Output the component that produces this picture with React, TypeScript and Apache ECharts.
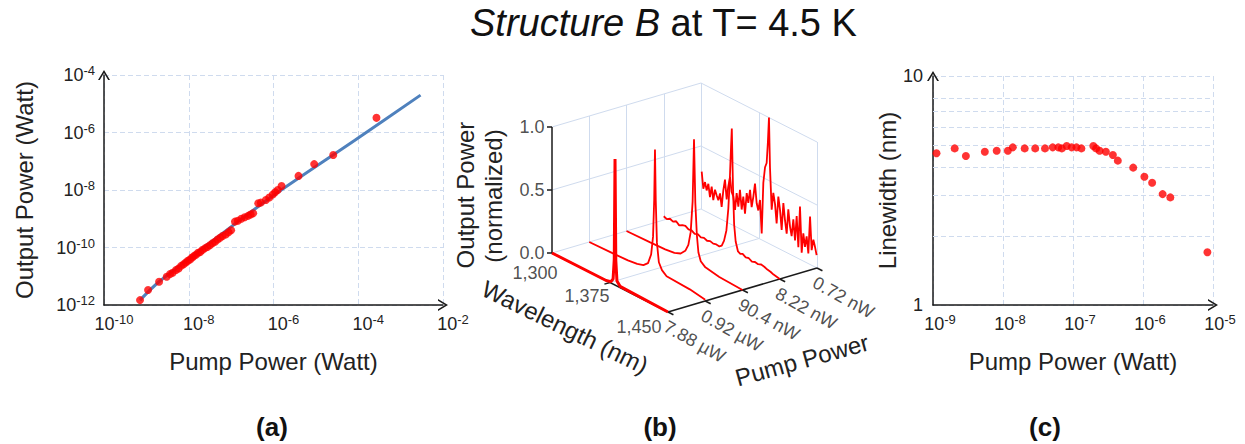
import React, { useEffect, useRef } from 'react';
import * as echarts from 'echarts';

const FONT = "'Liberation Sans', Arial, Helvetica, sans-serif";

// ---------- Panel (a): output vs pump power (log10 of Watt) ----------
const aPumpLog10 = [-9.15, -8.96, -8.70, -8.52, -8.44, -8.38, -8.30, -8.24, -8.18, -8.12, -8.07, -8.02, -7.97, -7.92, -7.88, -7.83, -7.78, -7.73, -7.68, -7.62, -7.56, -7.50, -7.44, -7.38, -7.32, -7.26, -7.20, -7.13, -7.06, -7.00, -6.91, -6.84, -6.76, -6.68, -6.60, -6.54, -6.48, -6.36, -6.30, -6.18, -6.10, -6.02, -5.96, -5.90, -5.81, -5.41, -5.04, -4.59, -3.57];
const aOutputLog10 = [-11.83, -11.48, -11.19, -11.02, -10.92, -10.88, -10.78, -10.73, -10.64, -10.58, -10.52, -10.46, -10.42, -10.35, -10.30, -10.25, -10.18, -10.16, -10.09, -10.03, -9.98, -9.92, -9.85, -9.80, -9.72, -9.66, -9.60, -9.55, -9.47, -9.40, -9.10, -9.07, -9.00, -8.95, -8.90, -8.85, -8.81, -8.46, -8.44, -8.35, -8.26, -8.16, -8.08, -8.00, -7.86, -7.51, -7.10, -6.78, -5.49];
const aFitPumpLog10 = [-9.15, -8.70, -7.26, -6.00, -4.08, -2.53];
const aFitOutputLog10 = [-11.83, -11.19, -9.57, -8.19, -6.27, -4.70];

// ---------- Panel (c): linewidth vs pump power ----------
const cPumpLog10 = [-8.95, -8.69, -8.53, -8.26, -8.09, -7.93, -7.86, -7.69, -7.54, -7.40, -7.29, -7.21, -7.16, -7.09, -7.02, -6.95, -6.88, -6.71, -6.67, -6.62, -6.53, -6.43, -6.36, -6.14, -5.98, -5.87, -5.72, -5.61, -5.08];
const cLinewidthNm = [4.60, 4.83, 4.47, 4.67, 4.72, 4.72, 4.88, 4.83, 4.83, 4.83, 4.88, 4.88, 4.83, 4.95, 4.88, 4.88, 4.83, 4.95, 4.83, 4.72, 4.67, 4.52, 4.27, 3.98, 3.63, 3.42, 3.05, 2.95, 1.70];
const cMinorGrid = [2, 3, 4, 5, 6, 7, 8];

// ---------- Panel (b): spectra waterfall ----------
const bWavelengthTicks = [1300, 1375, 1450];
const bWavelengthLabels = ['1,300', '1,375', '1,450'];
const bPumpLabels = ['7.88 µW', '0.92 µW', '90.4 nW', '8.22 nW', '0.72 nW'];
const bValueTicks = [0, 0.5, 1];
const bValueLabels = ['0.0', '0.5', '1.0'];

const spec788uW = [[1300, 0], [1370, 0], [1376, 0.01], [1379, 0.04], [1380.5, 0.2], [1381.5, 1.0], [1382.5, 0.2], [1384, 0.04], [1388, 0.01], [1450, 0]];
const spec092uW = [[1300, 0], [1330, 0.005], [1350, 0.01], [1362, 0.02], [1370, 0.035], [1376, 0.07], [1380, 0.15], [1382.5, 0.3], [1384, 0.6], [1385, 1.0], [1386, 0.6], [1387.5, 0.27], [1390, 0.12], [1394, 0.07], [1400, 0.04], [1430, 0.03], [1450, 0.01]];
const spec904nW = [[1300, 0], [1330, 0.005], [1350, 0.01], [1362, 0.02], [1370, 0.04], [1376, 0.08], [1380, 0.14], [1383, 0.25], [1385.5, 0.5], [1387.3, 1.0], [1389, 0.5], [1391, 0.25], [1393, 0.12], [1396, 0.06], [1402, 0.03], [1420, 0.01], [1450, 0]];
const spec822nW = [[1300, 0.03], [1304, 0.02], [1308, 0.035], [1312, 0.025], [1316, 0.04], [1320, 0.02], [1324, 0.035], [1328, 0.04], [1332, 0.025], [1336, 0.03], [1340, 0.015], [1344, 0.025], [1348, 0.012], [1352, 0.02], [1356, 0.01], [1360, 0.02], [1364, 0.012], [1368, 0.018], [1372, 0.015], [1375, 0.03], [1378, 0.08], [1381, 0.17], [1383.5, 0.35], [1385.5, 0.6], [1387, 0.85], [1388, 1.0], [1389.5, 0.55], [1391, 0.25], [1393, 0.12], [1396, 0.05], [1399, 0.04], [1402, 0.05], [1406, 0.035], [1410, 0.04], [1414, 0.025], [1418, 0.035], [1422, 0.03], [1426, 0.04], [1430, 0.035], [1434, 0.025], [1438, 0.02], [1442, 0.01], [1446, 0.005], [1450, 0]];
const spec072nW = [[1300.9, 0.30], [1303.0, 0.17], [1305.2, 0.23], [1307.3, 0.17], [1309.5, 0.23], [1311.6, 0.13], [1313.8, 0.22], [1315.9, 0.12], [1318.1, 0.21], [1320.3, 0.17], [1322.4, 0.14], [1324.6, 0.20], [1326.7, 0.10], [1328.9, 0.24], [1331.0, 0.33], [1333.2, 0.18], [1335.3, 0.29], [1337.5, 0.37], [1339.6, 0.26], [1341.8, 0.23], [1344.0, 0.13], [1346.1, 0.27], [1348.3, 0.17], [1350.4, 0.31], [1352.6, 0.16], [1354.7, 0.27], [1356.9, 0.14], [1359.1, 0.31], [1361.2, 0.24], [1363.4, 0.35], [1365.5, 0.22], [1367.7, 0.31], [1369.8, 0.42], [1372.0, 0.27], [1374.1, 0.22], [1376.3, 0.31], [1378.5, 0.05], [1380.6, 0.46], [1382.8, 0.59], [1384.9, 0.63], [1386.5, 0.8], [1387.9, 1.0], [1389.2, 0.61], [1391.4, 0.28], [1393.5, 0.42], [1395.7, 0.34], [1397.8, 0.19], [1400.0, 0.41], [1402.2, 0.31], [1404.3, 0.16], [1406.5, 0.38], [1408.6, 0.25], [1410.8, 0.15], [1412.9, 0.35], [1415.1, 0.22], [1417.2, 0.15], [1419.4, 0.29], [1421.6, 0.13], [1423.7, 0.33], [1425.9, 0.09], [1428.0, 0.42], [1430.2, 0.06], [1432.3, 0.22], [1434.5, 0.12], [1436.6, 0.21], [1438.8, 0.08], [1441.0, 0.38], [1443.1, 0.12], [1445.3, 0.21], [1447.4, 0.16], [1449.5, 0.10]];
const bSpectra = [spec788uW, spec092uW, spec904nW, spec822nW, spec072nW]; // index = position on pump axis

// oblique projection of (wavelength, pump index, normalized power) onto panel (b)'s plane
const WL0 = 1300;
const WL_SPAN = 150;
const proj = (wl: number, p: number, v: number): number[] => [
  ((wl - WL0) / WL_SPAN) * 116 + p * 37.25,
  v * 126 - ((wl - WL0) / WL_SPAN) * 59 + p * 11,
];

const ARROW = 'path://M0,10 L6,0 L12,10 L10.2,10 L6,3 L1.8,10 Z';
const GRID_COLOR = '#cfdbee';
const AXIS_COLOR = '#1a1a1a';
const TEXT = '#222';
const NAME_SIZE = 24;
const WL_LABEL_OFFSETS = [[-17, 20], [-23, 13], [-29, 15]];

const supRich = {
  b: { fontSize: 18, lineHeight: 22, color: TEXT, fontFamily: FONT },
  s: { fontSize: 13, lineHeight: 13, color: TEXT, fontFamily: FONT, verticalAlign: 'top' },
};
const powFmt = (v: number) => `{b|10}{s|${Math.round(v)}}`;

export default function App() {
  const ref = useRef<HTMLDivElement>(null);
  useEffect(() => {
    if (!ref.current) return;
    const chart = echarts.init(ref.current, undefined, { renderer: 'svg' });

    const last = bPumpLabels.length - 1;
    const wallSegs: number[][][] = [];
    bValueTicks.forEach((v) => {
      wallSegs.push([proj(WL0, 0, v), proj(WL0, last, v)]);
      wallSegs.push([proj(WL0, last, v), proj(WL0 + WL_SPAN, last, v)]);
    });
    for (let p = 1; p <= last; p++) wallSegs.push([proj(WL0, p, 0), proj(WL0, p, 1)]);
    bWavelengthTicks.slice(1).forEach((wl) => wallSegs.push([proj(wl, last, 0), proj(wl, last, 1)]));
    wallSegs.push([proj(bWavelengthTicks[1], 0, 0), proj(bWavelengthTicks[1], last, 0)]);

    const axisSegs: number[][][] = [
      [proj(WL0, 0, 0), proj(WL0, 0, 1)],
      [proj(WL0, 0, 0), proj(WL0 + WL_SPAN, 0, 0)],
      [proj(WL0 + WL_SPAN, 0, 0), proj(WL0 + WL_SPAN, last, 0)],
    ];
    bValueTicks.forEach((v) => {
      const q = proj(WL0, 0, v);
      axisSegs.push([[q[0] - 5, q[1]], q]);
    });
    bPumpLabels.forEach((_, p) => axisSegs.push([proj(WL0 + WL_SPAN, p, 0), proj(WL0 + WL_SPAN + 7, p, 0)]));
    axisSegs.push([proj(bWavelengthTicks[1], 0, 0), proj(bWavelengthTicks[1], -0.15, 0)]);

    const spectraSeries = bSpectra
      .map((spec, p) => ({
        type: 'line',
        xAxisIndex: 1,
        yAxisIndex: 1,
        showSymbol: false,
        symbol: 'none',
        silent: true,
        z: 5 + (last - p),
        lineStyle: { color: '#ff0000', width: p === 0 ? 3 : 1.8 },
        data: spec.map(([wl, v]) => proj(wl, p, v)),
      }))
      .reverse();

    const labelItems: any[] = [];
    bValueTicks.forEach((v, i) =>
      labelItems.push({
        value: proj(WL0, 0, v),
        label: { show: true, formatter: bValueLabels[i], position: 'left', distance: 7, fontSize: 18, color: TEXT, fontFamily: FONT },
      })
    );
    bWavelengthTicks.forEach((wl, i) =>
      labelItems.push({
        value: proj(wl, 0, 0),
        label: { show: true, formatter: bWavelengthLabels[i], position: 'inside', offset: WL_LABEL_OFFSETS[i], align: 'center', verticalAlign: 'middle', fontSize: 18, color: TEXT, fontFamily: FONT },
      })
    );
    bPumpLabels.forEach((name, p) =>
      labelItems.push({
        value: proj(WL0 + WL_SPAN, p, 0),
        label: { show: true, formatter: name, position: 'inside', offset: [4, 4], align: 'left', verticalAlign: 'top', rotate: -29, fontSize: 18, color: TEXT, fontFamily: FONT },
      })
    );

    const axisLineBase = () => ({
      show: true,
      onZero: false,
      lineStyle: { color: AXIS_COLOR, width: 1.5 },
      symbol: ['none', ARROW],
      symbolSize: [12, 10],
    });
    const split = { show: true, lineStyle: { color: GRID_COLOR, type: [5, 3], width: 1 } };
    const nameStyle = { fontSize: NAME_SIZE, color: TEXT, fontFamily: FONT };

    chart.setOption({
      animation: false,
      backgroundColor: '#ffffff',
      textStyle: { fontFamily: FONT },
      title: {
        text: '{i|Structure B} at T= 4.5 K',
        left: 470,
        top: 4,
        padding: 0,
        textStyle: {
          fontSize: 38,
          fontWeight: 'normal',
          color: '#111',
          fontFamily: FONT,
          rich: { i: { fontSize: 38, fontStyle: 'italic', color: '#111', fontFamily: FONT } },
        },
      },
      grid: [
        { left: 104, top: 75, width: 339, height: 230 },
        { left: 440, top: 60, width: 440, height: 300 },
        { left: 933, top: 76, width: 280, height: 229 },
      ],
      xAxis: [
        {
          gridIndex: 0, type: 'value', min: -10, max: -2, interval: 2,
          axisLine: axisLineBase(), axisTick: { show: false },
          axisLabel: { formatter: powFmt, rich: supRich, margin: 8, padding: [0, 0, 0, 20] },
          splitLine: split,
          name: 'Pump Power (Watt)', nameLocation: 'middle', nameGap: 44, nameTextStyle: nameStyle,
        },
        { gridIndex: 1, type: 'value', min: -112, max: 328, show: false },
        {
          gridIndex: 2, type: 'value', min: -9, max: -5, interval: 1,
          axisLine: axisLineBase(), axisTick: { show: false },
          axisLabel: { formatter: powFmt, rich: supRich, margin: 8, padding: [0, 0, 0, 14] },
          splitLine: split,
          name: 'Pump Power (Watt)', nameLocation: 'middle', nameGap: 44, nameTextStyle: nameStyle,
        },
      ],
      yAxis: [
        {
          gridIndex: 0, type: 'value', min: -12, max: -4, interval: 2,
          axisLine: axisLineBase(), axisTick: { show: false },
          axisLabel: { formatter: powFmt, rich: supRich, margin: 9 },
          splitLine: split,
          name: 'Output Power (Watt)', nameLocation: 'middle', nameGap: 68, nameTextStyle: nameStyle,
        },
        { gridIndex: 1, type: 'value', min: -107, max: 193, show: false },
        {
          gridIndex: 2, type: 'value', min: 0, max: 1, interval: 1,
          axisLine: axisLineBase(), axisTick: { show: false },
          axisLabel: { formatter: (v: number) => String(Math.round(Math.pow(10, v))), fontSize: 18, color: TEXT, margin: 10 },
          splitLine: split,
          name: 'Linewidth (nm)', nameLocation: 'middle', nameGap: 29, nameTextStyle: nameStyle,
        },
      ],
      series: [
        // (a)
        {
          type: 'line', xAxisIndex: 0, yAxisIndex: 0, showSymbol: false, symbol: 'none', silent: true, z: 2,
          smooth: 0.3,
          lineStyle: { color: '#4f81bd', width: 3 },
          data: aFitPumpLog10.map((x, i) => [x, aFitOutputLog10[i]]),
        },
        {
          type: 'scatter', xAxisIndex: 0, yAxisIndex: 0, symbolSize: 8, silent: true, z: 3,
          itemStyle: { color: '#ff0000' },
          data: aPumpLog10.map((x, i) => [x, aOutputLog10[i]]),
        },
        // (b)
        {
          type: 'lines', coordinateSystem: 'cartesian2d', xAxisIndex: 1, yAxisIndex: 1, silent: true, z: 1,
          lineStyle: { color: GRID_COLOR, width: 1, opacity: 1 },
          data: wallSegs.map((s) => ({ coords: s })),
        },
        {
          type: 'lines', coordinateSystem: 'cartesian2d', xAxisIndex: 1, yAxisIndex: 1, silent: true, z: 4,
          lineStyle: { color: AXIS_COLOR, width: 1.5, opacity: 1 },
          data: axisSegs.map((s) => ({ coords: s })),
        },
        ...spectraSeries,
        {
          type: 'scatter', xAxisIndex: 1, yAxisIndex: 1, symbolSize: 1, silent: true, z: 12,
          itemStyle: { color: 'rgba(0,0,0,0)' },
          data: labelItems,
        },
        // (c)
        {
          type: 'lines', coordinateSystem: 'cartesian2d', xAxisIndex: 2, yAxisIndex: 2, silent: true, z: 1,
          lineStyle: { color: GRID_COLOR, width: 1, type: [5, 3], opacity: 1 },
          data: cMinorGrid.map((g) => ({ coords: [[-9, Math.log10(g)], [-5, Math.log10(g)]] })),
        },
        {
          type: 'scatter', xAxisIndex: 2, yAxisIndex: 2, symbolSize: 8, silent: true, z: 3,
          itemStyle: { color: '#ff0000' },
          data: cPumpLog10.map((x, i) => [x, Math.log10(cLinewidthNm[i])]),
        },
      ],
      graphic: [
        { type: 'text', x: 465, y: 195, rotation: Math.PI / 2, style: { text: 'Output Power', font: `${NAME_SIZE}px ${FONT}`, fill: TEXT, align: 'center', verticalAlign: 'middle', textAlign: 'center', textVerticalAlign: 'middle' } },
        { type: 'text', x: 493, y: 196, rotation: Math.PI / 2, style: { text: '(normalized)', font: `${NAME_SIZE}px ${FONT}`, fill: TEXT, align: 'center', verticalAlign: 'middle', textAlign: 'center', textVerticalAlign: 'middle' } },
        { type: 'text', x: 565, y: 327, rotation: -0.455, style: { text: 'Wavelength (nm)', font: `${NAME_SIZE}px ${FONT}`, fill: TEXT, align: 'center', verticalAlign: 'middle', textAlign: 'center', textVerticalAlign: 'middle' } },
        { type: 'text', x: 802, y: 360, rotation: 0.27, style: { text: 'Pump Power', font: `${NAME_SIZE}px ${FONT}`, fill: TEXT, align: 'center', verticalAlign: 'middle', textAlign: 'center', textVerticalAlign: 'middle' } },
        { type: 'text', x: 272, y: 427, style: { text: '(a)', font: `bold 26px ${FONT}`, fill: '#111', align: 'center', verticalAlign: 'middle', textAlign: 'center', textVerticalAlign: 'middle' } },
        { type: 'text', x: 660, y: 427, style: { text: '(b)', font: `bold 26px ${FONT}`, fill: '#111', align: 'center', verticalAlign: 'middle', textAlign: 'center', textVerticalAlign: 'middle' } },
        { type: 'text', x: 1045, y: 427, style: { text: '(c)', font: `bold 26px ${FONT}`, fill: '#111', align: 'center', verticalAlign: 'middle', textAlign: 'center', textVerticalAlign: 'middle' } },
      ],
    });
    return () => chart.dispose();
  }, []);
  return <div ref={ref} style={{ position: 'fixed', left: 0, top: 0, width: 1245, height: 444, background: '#fff' }} />;
}
